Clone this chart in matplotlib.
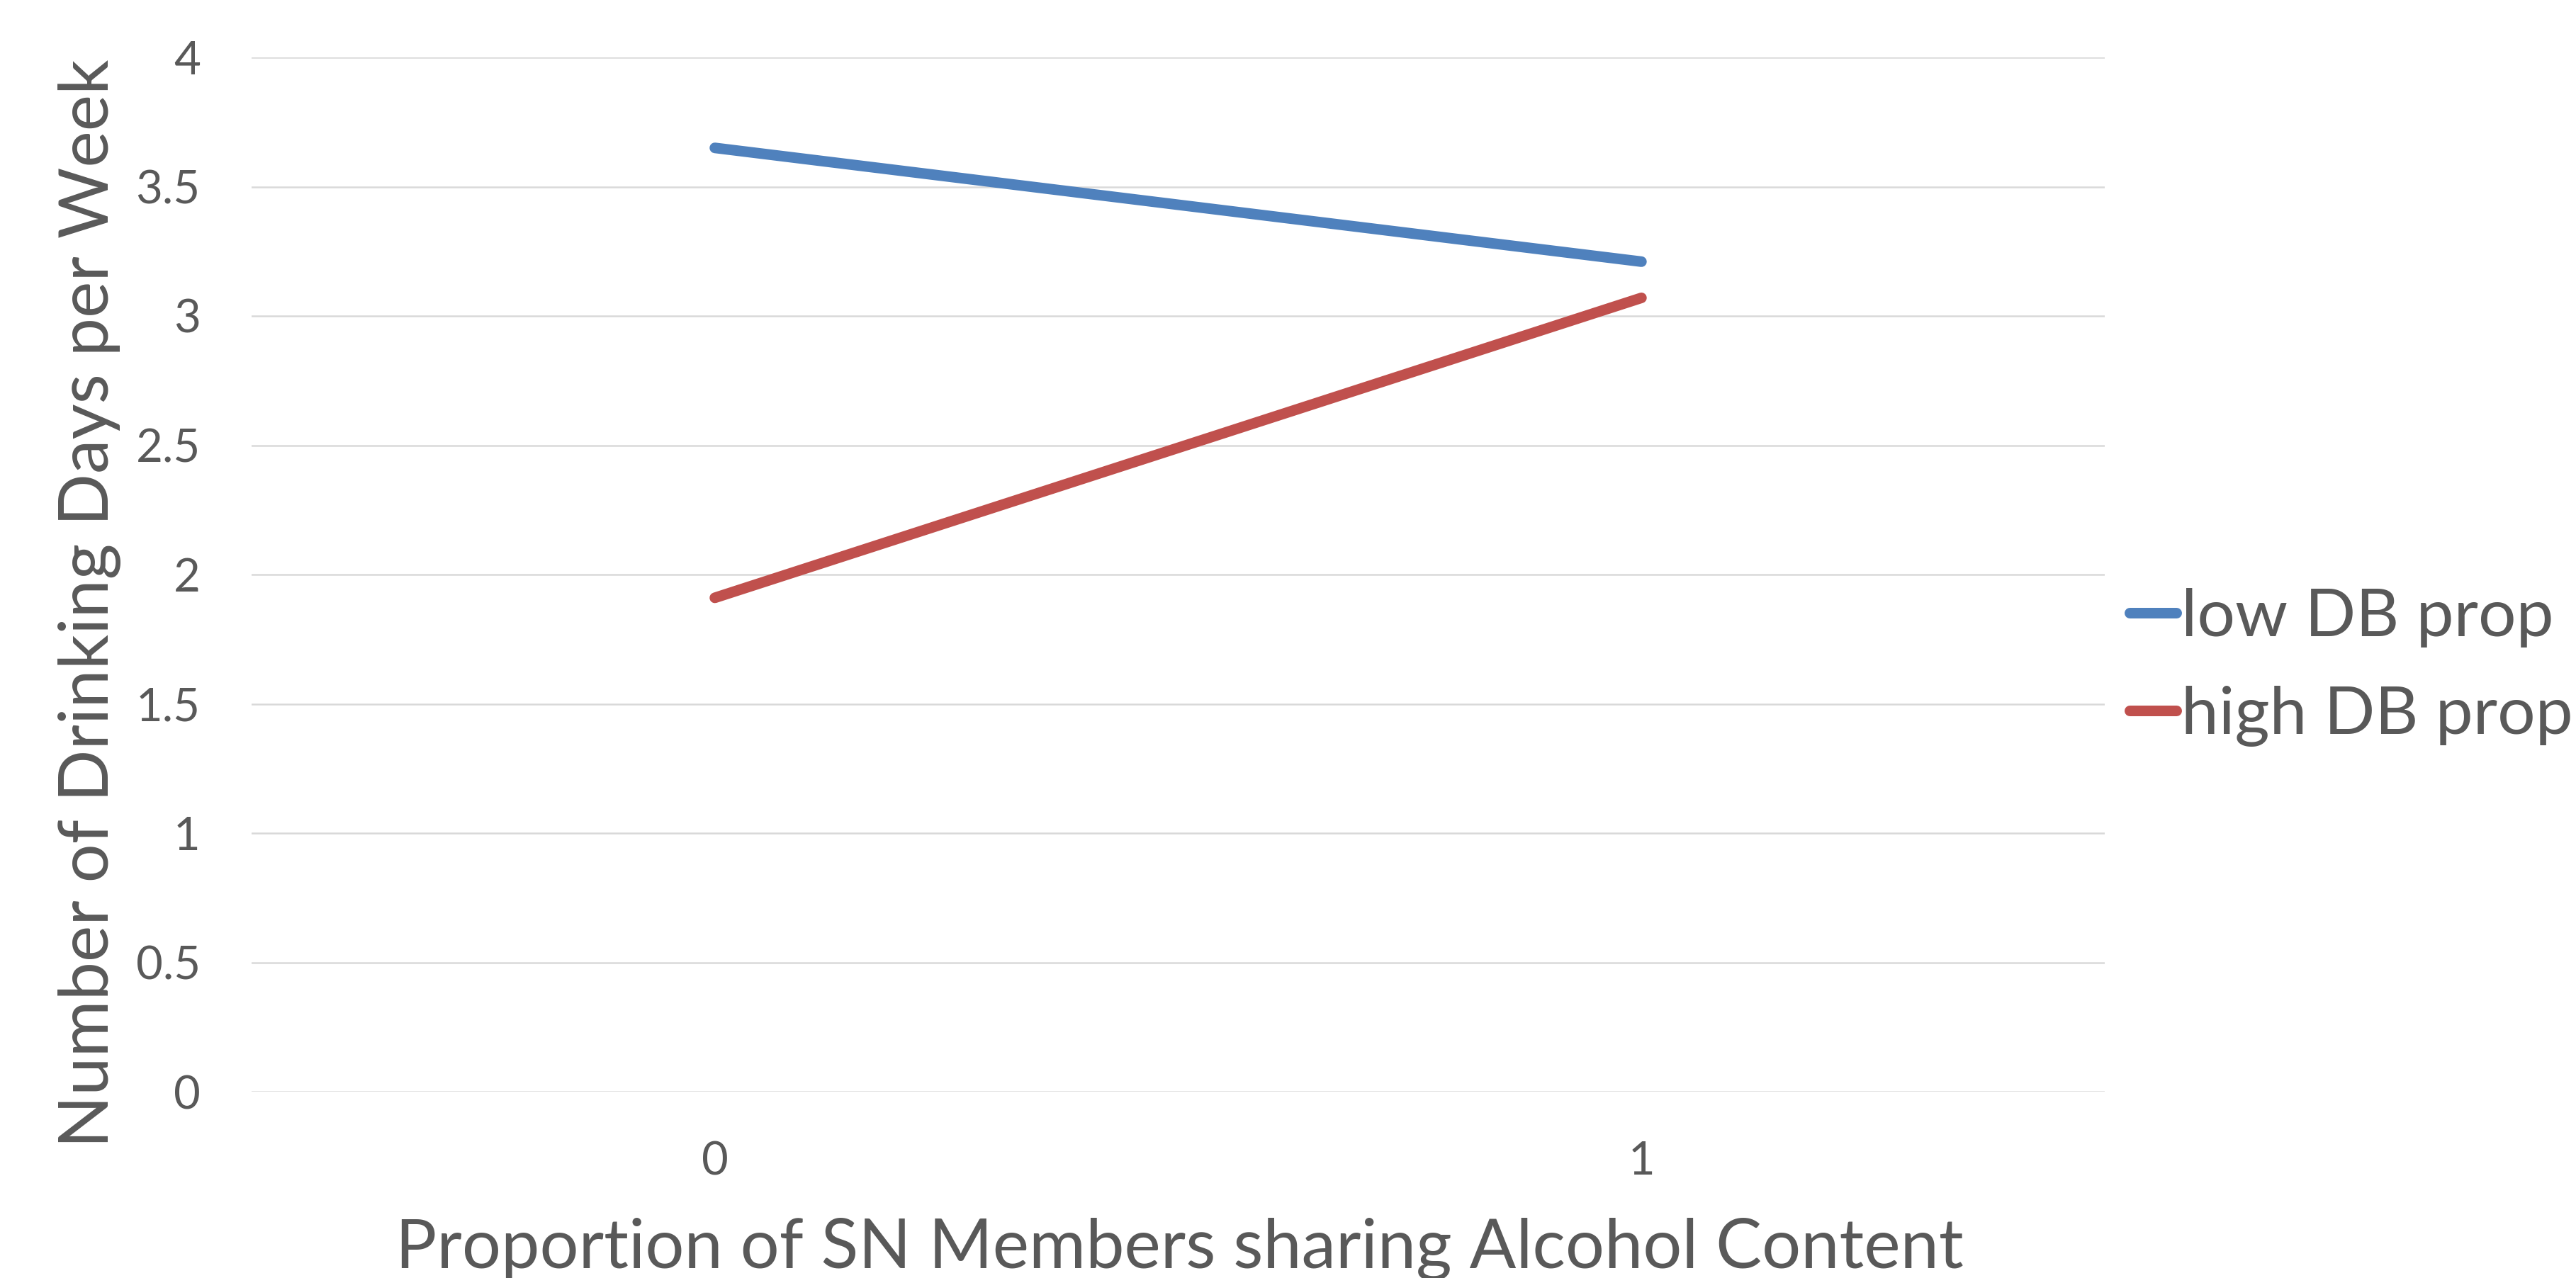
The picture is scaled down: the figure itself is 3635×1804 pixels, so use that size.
import matplotlib
matplotlib.use("Agg")
import matplotlib.pyplot as plt

categories = ["0", "1"]
low_db = [3.65, 3.21]
high_db = [1.91, 3.07]
series_names = ["low DB prop", "high DB prop"]
yticks = [0, 0.5, 1, 1.5, 2, 2.5, 3, 3.5, 4]
ytick_labels = ["0", "0.5", "1", "1.5", "2", "2.5", "3", "3.5", "4"]

TXT = "#595959"
FONT = "Lato"
plt.rcParams["font.family"] = [FONT, "DejaVu Sans"]

W, H, DPI = 3635, 1804, 100
fig = plt.figure(figsize=(W / DPI, H / DPI), dpi=DPI)
ax = fig.add_axes([355 / W, (H - 1541) / H, (2970 - 355) / W, (1541 - 81) / H])

x = list(range(len(categories)))
ax.plot(x, low_db, color="#4F81BD", lw=10.8, solid_capstyle="round", label=series_names[0], zorder=3)
ax.plot(x, high_db, color="#C0504D", lw=10.8, solid_capstyle="round", label=series_names[1], zorder=3)

ax.set_xlim(-0.5, 1.5)
ax.set_ylim(0, 4)
ax.set_xticks(x)
ax.set_xticklabels(categories)
ax.set_yticks(yticks)
ax.set_yticklabels(ytick_labels)
ax.grid(axis="y", color="#D9D9D9", lw=1.8)
ax.set_axisbelow(True)
for s in ax.spines.values():
    s.set_visible(False)
ax.tick_params(axis="both", length=0, labelsize=47, labelcolor=TXT)
ax.tick_params(axis="y", pad=52)
ax.tick_params(axis="x", pad=50)

fig.text(1664 / W, 14 / H, "Proportion of SN Members sharing Alcohol Content",
         ha="center", va="baseline", fontsize=70, color=TXT)
fig.text(127 / W, (H - 852) / H, "Number of Drinking Days per Week",
         ha="center", va="center", rotation=90, fontsize=70, color=TXT)

leg = ax.legend(loc="center left", bbox_to_anchor=(3005 / W, (H - 942) / H),
                bbox_transform=fig.transFigure, frameon=False, borderpad=0,
                borderaxespad=0, handlelength=0.7, handletextpad=0.07,
                labelspacing=0.58, fontsize=68)
for t in leg.get_texts():
    t.set_color(TXT)

fig.savefig("out.png", dpi=DPI)
